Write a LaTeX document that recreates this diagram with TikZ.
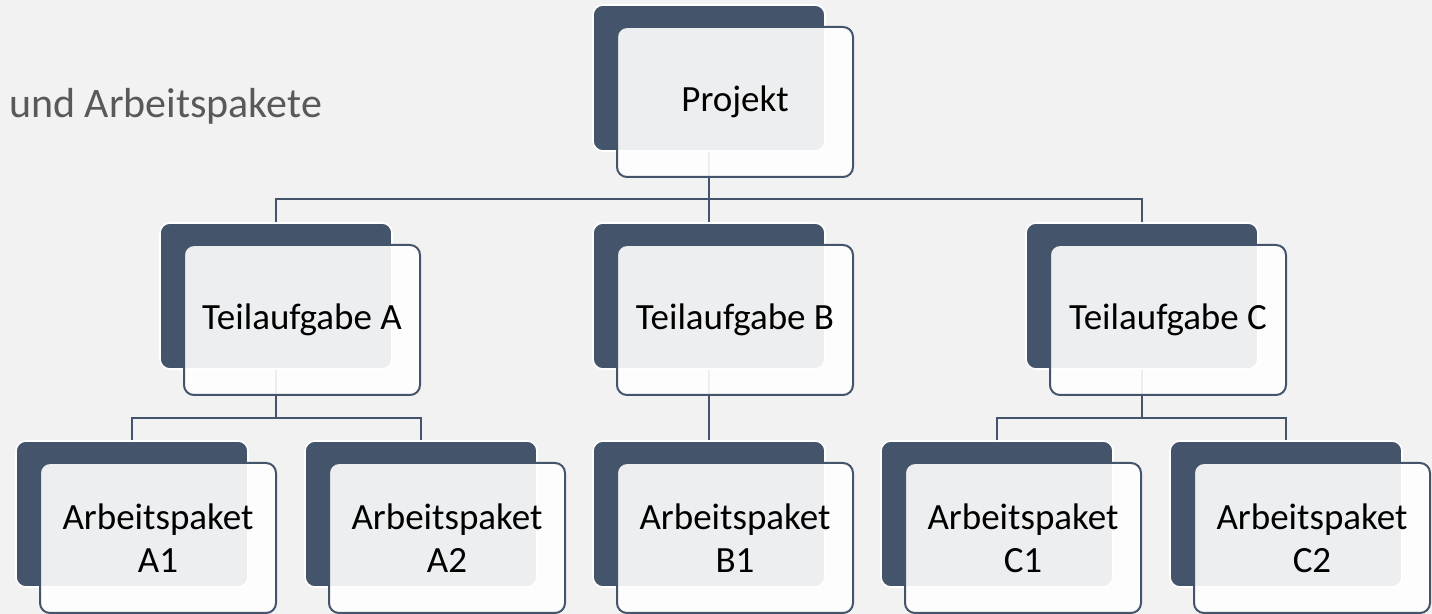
\documentclass[tikz,border=0pt]{standalone}
\usepackage{fontspec}
\setmainfont{Carlito}
\usetikzlibrary{positioning}
\definecolor{wbsdark}{HTML}{44546A}
\definecolor{wbsbg}{HTML}{F2F2F2}
\definecolor{wbstitle}{HTML}{595959}

\begin{document}
\begin{tikzpicture}[x=0.5pt,y=-0.5pt,
		back/.style={fill=wbsdark,draw=white,line width=0.8pt,rounded corners=5pt,
			minimum width=116pt,minimum height=73pt,inner sep=0pt},
		front/.style={fill=white,fill opacity=0.9,text opacity=1,draw=wbsdark,line width=1pt,
			rounded corners=5pt,minimum width=118pt,minimum height=75pt,inner sep=0pt,
			align=center,font=\fontsize{18.5}{21.5}\selectfont},
		conn/.style={draw=wbsdark,line width=1pt}]
		\def\dx{26}
		\def\dy{24}
		\fill[wbsbg] (0,0) rectangle (1432,614);
		\useasboundingbox (0,0) rectangle (1432,614);
		\node[anchor=base west,text=wbstitle,font=\fontsize{21}{25}\selectfont] (title) at (2,118) {und Arbeitspakete};
		% hintere Kaesten
		\foreach \n/\x/\y in {P/709/78, TA/276/296, TB/709/296, TC/1142/296,
			AA/132/514, AB/421/514, BA/709/514, CA/997/514, CB/1286/514}
			\node[back] (\n0) at (\x,\y) {};
		% Verbindungen
		\coordinate (bus1) at (709,199);
		\draw[conn] (P0.south) -- (bus1);
		\draw[conn] (TA0.north) |- (bus1) -| (TC0.north);
		\draw[conn] (bus1) -- (TB0.north);
		\coordinate (bus2) at (276,418);
		\draw[conn] (TA0.south) -- (bus2);
		\draw[conn] (AA0.north) |- (bus2) -| (AB0.north);
		\draw[conn] (TB0.south) -- (BA0.north);
		\coordinate (bus3) at (1142,418);
		\draw[conn] (TC0.south) -- (bus3);
		\draw[conn] (CA0.north) |- (bus3) -| (CB0.north);
		% vordere Kaesten
		\foreach \n/\x/\y/\t in {P/709/78/Projekt, TA/276/296/Teilaufgabe A,
			TB/709/296/Teilaufgabe B, TC/1142/296/Teilaufgabe C,
			AA/132/514/Arbeitspaket\\A1, AB/421/514/Arbeitspaket\\A2,
			BA/709/514/Arbeitspaket\\B1, CA/997/514/Arbeitspaket\\C1,
			CB/1286/514/Arbeitspaket\\C2}
			\node[front] (\n) at (\x+\dx,\y+\dy) {\t};
	\end{tikzpicture}
\end{document}
